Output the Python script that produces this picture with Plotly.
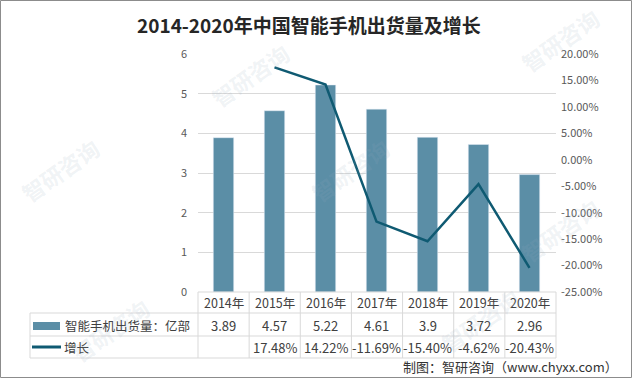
import plotly.graph_objects as go

years = ["2014年", "2015年", "2016年", "2017年", "2018年", "2019年", "2020年"]
shipments = [3.89, 4.57, 5.22, 4.61, 3.9, 3.72, 2.96]
growth = [None, 17.48, 14.22, -11.69, -15.40, -4.62, -20.43]
shipment_labels = ["3.89", "4.57", "5.22", "4.61", "3.9", "3.72", "2.96"]
growth_labels = ["", "17.48%", "14.22%", "-11.69%", "-15.40%", "-4.62%", "-20.43%"]
left_ticks = [0, 1, 2, 3, 4, 5, 6]
right_ticks = [20, 15, 10, 5, 0, -5, -10, -15, -20, -25]

W, H = 632, 378
L, R, T, B = 198, 556, 54, 292
BAR_COLOR = "#5b8ea6"
LINE_COLOR = "#0f5a72"
GRID = "#d9d9d9"
TXT = "#404040"
FONT = "Noto Sans CJK SC"


def px(x):
    return (x - L) / (R - L)


def py(y):
    return (B - y) / (B - T)


fig = go.Figure()
fig.add_trace(go.Bar(x=years, y=shipments, marker_color=BAR_COLOR, name="智能手机出货量：亿部",
                     showlegend=False))
fig.add_trace(go.Scatter(x=years, y=growth, yaxis="y2", mode="lines",
                         line=dict(color=LINE_COLOR, width=2.5), name="增长", showlegend=False,
                         connectgaps=False))

shapes = []
annotations = []

# table horizontal lines
for y, x0 in [(313, 30), (336, 30), (358, 30)]:
    shapes.append(dict(type="line", xref="paper", yref="paper", x0=px(x0), x1=px(R),
                       y0=py(y), y1=py(y), line=dict(color=GRID, width=1)))
shapes.append(dict(type="line", xref="paper", yref="paper", x0=0, x1=1, y0=0, y1=0,
                   line=dict(color=GRID, width=1)))
# vertical lines
n = len(years)
for k in range(n + 1):
    x = L + k * (R - L) / n
    shapes.append(dict(type="line", xref="paper", yref="paper", x0=px(x), x1=px(x),
                       y0=py(292), y1=py(358), line=dict(color=GRID, width=1)))
shapes.append(dict(type="line", xref="paper", yref="paper", x0=px(30), x1=px(30),
                   y0=py(313), y1=py(358), line=dict(color=GRID, width=1)))
# legend swatches
shapes.append(dict(type="rect", xref="paper", yref="paper", x0=px(33), x1=px(60),
                   y0=py(330), y1=py(322), fillcolor=BAR_COLOR, line=dict(width=0)))
shapes.append(dict(type="line", xref="paper", yref="paper", x0=px(32), x1=px(61),
                   y0=py(347), y1=py(347), line=dict(color=LINE_COLOR, width=3)))
# outer border
shapes.append(dict(type="rect", xref="paper", yref="paper", x0=px(0.5), x1=px(631.5),
                   y0=py(377.5), y1=py(0.5), line=dict(color="#8c8c8c", width=1)))

# table text
for i, yr in enumerate(years):
    annotations.append(dict(x=yr, xref="x", y=py(302.5), yref="paper", text=yr, showarrow=False,
                            xanchor="center", yanchor="middle",
                            font=dict(size=12.5, color=TXT, family=FONT)))
    annotations.append(dict(x=yr, xref="x", y=py(325), yref="paper", text=shipment_labels[i],
                            xanchor="center", yanchor="middle", showarrow=False,
                            font=dict(size=13, color=TXT, family=FONT)))
    annotations.append(dict(x=yr, xref="x", y=py(347), yref="paper", text=growth_labels[i],
                            xanchor="center", yanchor="middle", showarrow=False,
                            font=dict(size=13, color=TXT, family=FONT)))
annotations.append(dict(x=px(63), xref="paper", y=py(325), yref="paper", text="智能手机出货量：亿部",
                        xanchor="left", yanchor="middle", showarrow=False,
                        font=dict(size=12.5, color=TXT, family=FONT)))
annotations.append(dict(x=px(62), xref="paper", y=py(347), yref="paper", text="增长",
                        xanchor="left", yanchor="middle", showarrow=False,
                        font=dict(size=12.5, color=TXT, family=FONT)))
annotations.append(dict(x=px(620), xref="paper", y=py(366), yref="paper",
                        text="制图：智研咨询（www.chyxx.com）", xanchor="right", yanchor="middle",
                        showarrow=False, font=dict(size=13, color="#333333", family=FONT)))
annotations.append(dict(x=px(309), xref="paper", y=py(25), yref="paper", xanchor="center",
                        yanchor="middle", text="<b>2014-2020年中国智能手机出货量及增长</b>",
                        showarrow=False, font=dict(size=19, color="#262626", family=FONT)))

# faint watermarks
for (wx, wy) in [(60, 170), (250, 75), (350, 170), (560, 40), (110, 330), (480, 320), (560, 230)]:
    annotations.append(dict(x=px(wx), xref="paper", y=py(wy), yref="paper", text="<b>智研咨询</b>",
                            textangle=-35, showarrow=False, xanchor="center", yanchor="middle",
                            font=dict(size=22, color="rgba(150,170,190,0.15)", family=FONT)))

fig.update_layout(
    width=W, height=H,
    margin=dict(l=L, r=W - R, t=T, b=H - B),
    paper_bgcolor="white", plot_bgcolor="white",
    bargap=0.6,
    xaxis=dict(showticklabels=False, showline=False, ticks="", showgrid=False),
    yaxis=dict(range=[0, 6], tickvals=left_ticks, showgrid=True, gridcolor=GRID, gridwidth=1,
               zeroline=False, showline=False, ticks="", ticklabelstandoff=10,
               tickfont=dict(size=11, color="#595959", family=FONT)),
    yaxis2=dict(range=[-25, 20], tickvals=right_ticks, overlaying="y", side="right",
                ticktext=[f"{v:.2f}%" for v in right_ticks], showgrid=False, zeroline=False,
                showline=False, ticks="", ticklabelstandoff=4,
                tickfont=dict(size=11, color="#595959", family=FONT)),
    shapes=shapes, annotations=annotations,
    font=dict(family=FONT),
)

fig.write_html("out.html", config={"displayModeBar": False},
               post_script="document.body.style.margin='0px';document.body.style.overflow='hidden';")
